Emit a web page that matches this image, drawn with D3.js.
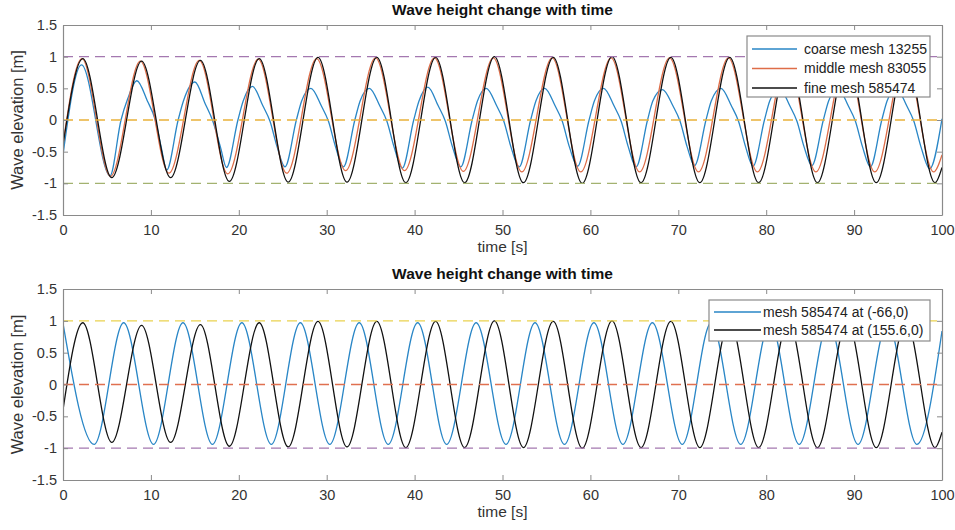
<!DOCTYPE html>
<html>
<head>
<meta charset="utf-8">
<script src="https://cdn.jsdelivr.net/npm/d3@7"></script>
<style>
  html, body { margin: 0; padding: 0; background: #fff; }
  svg { display: block; font-family: "Liberation Sans", Arial, sans-serif; }
</style>
</head>
<body>
<svg id="chart" width="955" height="530"></svg>
<script>
// ---------------- DATA (key points of each trace) ----------------
const titleText = "Wave height change with time";
const xLabel = "time [s]";
const yLabel = "Wave elevation [m]";
const xTicks = [0, 10, 20, 30, 40, 50, 60, 70, 80, 90, 100];
const yTicks = [-1.5, -1, -0.5, 0, 0.5, 1, 1.5];

// fine mesh 585474 (also "mesh 585474 at (155.6,0)")
const fineT = [0, 2.25, 5.55, 8.94, 12.24, 15.63, 18.93, 22.32, 25.62, 29.01, 32.31, 35.70, 39.00, 42.39, 45.69, 49.08, 52.38, 55.77, 59.07, 62.46, 65.76, 69.15, 72.45, 75.84, 79.14, 82.53, 85.83, 89.22, 92.52, 95.91, 99.21, 100];
const fineV = [-0.40, 0.97, -0.91, 0.93, -0.91, 0.94, -0.97, 0.97, -0.98, 0.99, -0.98, 0.99, -0.99, 0.99, -0.99, 1.00, -0.99, 0.99, -1.00, 1.00, -0.99, 0.99, -0.99, 0.99, -0.99, 0.99, -0.99, 0.99, -0.99, 0.99, -0.99, -0.75];

// middle mesh 83055
const middleT = [0, 2.15, 5.40, 8.80, 12.05, 15.50, 18.75, 22.20, 25.45, 28.85, 32.15, 35.55, 38.85, 42.25, 45.55, 48.95, 52.20, 55.65, 58.90, 62.35, 65.60, 69.00, 72.30, 75.70, 79.00, 82.40, 85.65, 89.10, 92.35, 95.80, 99.05, 100];
const middleV = [-0.38, 0.97, -0.89, 0.93, -0.84, 0.94, -0.85, 0.96, -0.84, 0.97, -0.80, 0.98, -0.80, 0.98, -0.81, 0.98, -0.82, 0.98, -0.82, 0.98, -0.82, 0.98, -0.82, 0.98, -0.82, 0.98, -0.82, 0.98, -0.82, 0.98, -0.82, -0.55];

// coarse mesh 13255
const coarseT = [0, 2.1, 5.35,
  6.6, 7.35, 8.4, 9.6, 10.5, 11.2, 11.8,
  13.1, 13.7, 15.0, 16.2, 17.0, 17.9, 18.6,
  19.9, 20.5, 21.55, 22.75, 23.55, 24.35, 25.25,
  26.55, 27.15, 28.2, 29.4, 30.2, 31.0, 31.9,
  33.2, 33.8, 34.85, 36.05, 36.85, 37.65, 38.6,
  39.9, 40.5, 41.5, 42.7, 43.5, 44.3, 45.25,
  46.55, 47.15, 48.15, 49.35, 50.15, 50.95, 51.9,
  53.2, 53.8, 54.8, 56.0, 56.8, 57.6, 58.55,
  59.85, 60.45, 61.5, 62.7, 63.5, 64.3, 65.2,
  66.5, 67.1, 68.2, 69.4, 70.2, 71.0, 71.85,
  73.15, 73.75, 74.85, 76.05, 76.85, 77.65, 78.5,
  79.8, 80.4, 81.5, 82.7, 83.5, 84.3, 85.2,
  86.5, 87.1, 88.15, 89.35, 90.15, 90.95, 91.85,
  93.15, 93.75, 94.8, 96.0, 96.8, 97.6, 98.6,
  100];
const coarseV = [-0.55, 0.87, -0.88,
  0.0, 0.33, 0.62, 0.30, 0.0, -0.45, -0.79,
  0.0, 0.30, 0.60, 0.25, 0.0, -0.42, -0.75,
  0.0, 0.30, 0.53, 0.22, -0.02, -0.42, -0.74,
  0.0, 0.30, 0.50, 0.22, -0.02, -0.42, -0.74,
  0.0, 0.30, 0.50, 0.22, -0.02, -0.42, -0.76,
  0.0, 0.30, 0.52, 0.22, -0.02, -0.42, -0.74,
  0.0, 0.30, 0.50, 0.22, -0.02, -0.42, -0.74,
  0.0, 0.30, 0.50, 0.22, -0.02, -0.42, -0.73,
  0.0, 0.30, 0.50, 0.22, -0.02, -0.42, -0.74,
  0.0, 0.30, 0.48, 0.22, -0.02, -0.42, -0.72,
  0.0, 0.30, 0.50, 0.22, -0.02, -0.42, -0.73,
  0.0, 0.30, 0.50, 0.22, -0.02, -0.42, -0.72,
  0.0, 0.30, 0.50, 0.22, -0.02, -0.42, -0.74,
  0.0, 0.30, 0.50, 0.22, -0.02, -0.42, -0.77,
  0.02];

// mesh 585474 at (-66,0)
const probeT = [0, 3.55, 6.90, 10.30, 13.65, 17.00, 20.35, 23.70, 27.00, 30.35, 33.70, 37.00, 40.35, 43.65, 47.00, 50.40, 53.70, 57.05, 60.40, 63.70, 67.05, 70.45, 73.75, 77.10, 80.45, 83.75, 87.10, 90.45, 93.80, 97.15, 100];
const probeV = [0.96, -0.94, 0.97, -0.94, 0.97, -0.94, 0.97, -0.94, 0.97, -0.94, 0.97, -0.94, 0.97, -0.94, 0.97, -0.94, 0.97, -0.94, 0.97, -0.94, 0.97, -0.94, 0.97, -0.94, 0.97, -0.94, 0.97, -0.94, 0.97, -0.94, 0.84];

const topLegend = ["coarse mesh 13255", "middle mesh 83055", "fine mesh 585474"];
const bottomLegend = ["mesh 585474 at (-66,0)", "mesh 585474 at (155.6,0)"];
const topRefLevels = [1, 0, -1];
const bottomRefLevels = [1, 0, -1];

// ---------------- STYLE ----------------
const C = {
  blue: "#2986c6", orange: "#de6d48", black: "#111111",
  purple: "#a478b0", yellow: "#e9b13a", green: "#a3b270",
  yellowLight: "#ead24f", red: "#e0704f",
  axis: "#8a8a8a", text: "#333333"
};

const svg = d3.select("#chart");
const zip = (T, V) => T.map((t, i) => ({ t, v: V[i] }));

function panel(cfg) {
  const x = d3.scaleLinear().domain([0, 100]).range([63, 942]);
  const y = d3.scaleLinear().domain([-1.5, 1.5]).range([cfg.bottom, cfg.top]);
  const g = svg.append("g");

  const line = d3.line().x(d => x(d.t)).y(d => y(d.v)).curve(d3.curveMonotoneX);

  const clipId = "clip" + cfg.top;
  svg.append("clipPath").attr("id", clipId).append("rect")
    .attr("x", x(0)).attr("y", cfg.top).attr("width", x(100) - x(0)).attr("height", cfg.bottom - cfg.top);

  const plot = g.append("g").attr("clip-path", `url(#${clipId})`);
  cfg.series.forEach(s => {
    plot.append("path").datum(zip(s.T, s.V))
      .attr("d", line).attr("fill", "none")
      .attr("stroke", s.color).attr("stroke-width", 1.3).attr("stroke-linejoin", "round");
  });
  cfg.refs.forEach(r => {
    plot.append("line")
      .attr("x1", x(0)).attr("x2", x(100)).attr("y1", y(r.v)).attr("y2", y(r.v))
      .attr("stroke", r.color).attr("stroke-width", 1.4).attr("stroke-dasharray", "10,6");
  });

  // axes (box with inward ticks)
  const axB = g.append("g").attr("transform", `translate(0,${cfg.bottom})`)
    .call(d3.axisBottom(x).tickValues(xTicks).tickSizeInner(-5).tickSizeOuter(0).tickPadding(10).tickFormat(d3.format("d")));
  const axT = g.append("g").attr("transform", `translate(0,${cfg.top})`)
    .call(d3.axisTop(x).tickValues(xTicks).tickSizeInner(-5).tickSizeOuter(0).tickFormat(""));
  const axL = g.append("g").attr("transform", `translate(${x(0)},0)`)
    .call(d3.axisLeft(y).tickValues(yTicks).tickSizeInner(-5).tickSizeOuter(0).tickPadding(6).tickFormat(d => String(d)));
  const axR = g.append("g").attr("transform", `translate(${x(100)},0)`)
    .call(d3.axisRight(y).tickValues(yTicks).tickSizeInner(-5).tickSizeOuter(0).tickFormat(""));
  [axB, axT, axL, axR].forEach(a => {
    a.select(".domain").attr("stroke", C.axis).attr("stroke-width", 1.2);
    a.selectAll(".tick line").attr("stroke", C.axis).attr("stroke-width", 1);
    a.selectAll(".tick text").attr("fill", C.text).attr("font-size", 14.5)
      .attr("font-family", "'Liberation Sans', Arial, sans-serif");
  });
  axB.selectAll(".tick text").attr("dy", "0.71em");

  // title & labels
  g.append("text").attr("x", (x(0) + x(100)) / 2).attr("y", cfg.top - 10)
    .attr("text-anchor", "middle").attr("font-weight", "bold").attr("font-size", 15.5)
    .attr("fill", "#111").text(titleText);
  g.append("text").attr("x", (x(0) + x(100)) / 2).attr("y", cfg.bottom + 37)
    .attr("text-anchor", "middle").attr("font-size", 15.5).attr("fill", C.text).text(xLabel);
  g.append("text").attr("transform", `translate(23,${(cfg.top + cfg.bottom) / 2}) rotate(-90)`)
    .attr("text-anchor", "middle").attr("font-size", 16.5).attr("fill", C.text).text(yLabel);

  // legend
  const L = cfg.legend;
  const lg = g.append("g");
  lg.append("rect").attr("x", L.x).attr("y", L.y).attr("width", L.w).attr("height", L.h)
    .attr("fill", "#fff").attr("stroke", C.axis).attr("stroke-width", 1.2);
  L.items.forEach((name, i) => {
    const cy = L.y + L.first + i * L.step;
    lg.append("line").attr("x1", L.x + 5).attr("x2", L.x + 5 + L.lineLen).attr("y1", cy).attr("y2", cy)
      .attr("stroke", cfg.series[i].color).attr("stroke-width", 1.5);
    lg.append("text").attr("x", L.x + 5 + L.lineLen + L.gap).attr("y", cy).attr("dy", "0.35em")
      .attr("font-size", 14).attr("fill", "#222").text(name);
  });
}

panel({
  top: 25, bottom: 215,
  series: [
    { T: coarseT, V: coarseV, color: C.blue },
    { T: middleT, V: middleV, color: C.orange },
    { T: fineT, V: fineV, color: C.black }
  ],
  refs: [
    { v: topRefLevels[0], color: C.purple },
    { v: topRefLevels[1], color: C.yellow },
    { v: topRefLevels[2], color: C.green }
  ],
  legend: { x: 747, y: 36, w: 183, h: 61, first: 13, step: 19.5, lineLen: 45, gap: 7, items: topLegend }
});

panel({
  top: 289, bottom: 480,
  series: [
    { T: probeT, V: probeV, color: C.blue },
    { T: fineT, V: fineV, color: C.black }
  ],
  refs: [
    { v: bottomRefLevels[0], color: C.yellowLight },
    { v: bottomRefLevels[1], color: C.red },
    { v: bottomRefLevels[2], color: C.purple }
  ],
  legend: { x: 709, y: 300, w: 221, h: 41, first: 12, step: 18, lineLen: 47, gap: 2, items: bottomLegend }
});
</script>
</body>
</html>
